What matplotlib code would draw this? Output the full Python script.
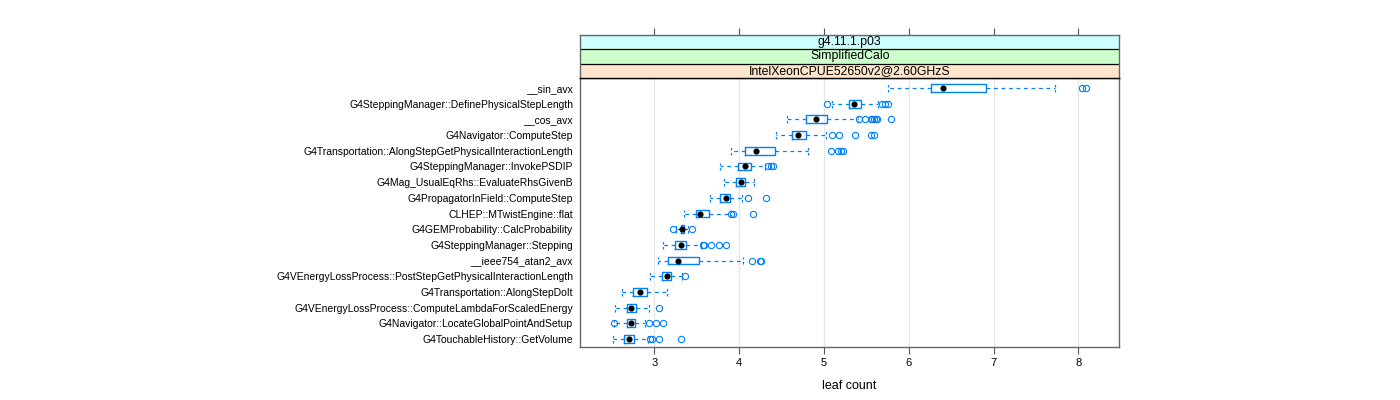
import matplotlib
matplotlib.use("Agg")
from matplotlib import pyplot as plt
import numpy as np

plt.rcParams['font.family'] = ['Liberation Sans', 'DejaVu Sans']

# categories, top to bottom
labels = ["__sin_avx",
          "G4SteppingManager::DefinePhysicalStepLength",
          "__cos_avx",
          "G4Navigator::ComputeStep",
          "G4Transportation::AlongStepGetPhysicalInteractionLength",
          "G4SteppingManager::InvokePSDIP",
          "G4Mag_UsualEqRhs::EvaluateRhsGivenB",
          "G4PropagatorInField::ComputeStep",
          "CLHEP::MTwistEngine::flat",
          "G4GEMProbability::CalcProbability",
          "G4SteppingManager::Stepping",
          "__ieee754_atan2_avx",
          "G4VEnergyLossProcess::PostStepGetPhysicalInteractionLength",
          "G4Transportation::AlongStepDoIt",
          "G4VEnergyLossProcess::ComputeLambdaForScaledEnergy",
          "G4Navigator::LocateGlobalPointAndSetup",
          "G4TouchableHistory::GetVolume"]

whis_lo = [5.75, 5.09, 4.57, 4.44, 3.90, 3.775, 3.82, 3.66, 3.35, 3.26, 3.10, 3.04, 2.955, 2.62, 2.535, 2.53, 2.51]
q1      = [6.26, 5.29, 4.79, 4.62, 4.07, 3.99, 3.965, 3.77, 3.49, 3.31, 3.25, 3.16, 3.095, 2.75, 2.68, 2.68, 2.645]
med     = [6.41, 5.36, 4.905, 4.70, 4.20, 4.07, 4.02, 3.84, 3.535, 3.33, 3.31, 3.28, 3.145, 2.83, 2.72, 2.72, 2.70]
q3      = [6.915, 5.44, 5.04, 4.79, 4.42, 4.135, 4.07, 3.895, 3.645, 3.355, 3.37, 3.53, 3.20, 2.91, 2.79, 2.77, 2.76]
whis_hi = [7.72, 5.64, 5.40, 5.03, 4.81, 4.31, 4.18, 4.03, 3.90, 3.40, 3.55, 4.05, 3.33, 3.145, 2.935, 2.89, 2.92]
outliers = [[8.04, 8.09],
            [5.04, 5.69, 5.72, 5.75],
            [5.41, 5.49, 5.55, 5.57, 5.59, 5.61, 5.63, 5.79],
            [5.10, 5.175, 5.37, 5.55, 5.59],
            [5.08, 5.17, 5.20, 5.23],
            [4.34, 4.375, 4.40],
            [],
            [4.10, 4.32],
            [3.91, 3.93, 4.16],
            [3.22, 3.44],
            [3.57, 3.59, 3.67, 3.76, 3.84],
            [4.15, 4.25, 4.26],
            [3.36],
            [],
            [3.055],
            [2.52, 2.94, 3.02, 3.10],
            [2.95, 2.97, 3.05, 3.31]]

strips = ["g4.11.1.p03", "SimplifiedCalo", "IntelXeonCPUE52650v2@2.60GHzS"]
strip_cols = ["#ccffff", "#ccffcc", "#ffe5cc"]

blue = "#0080ff"
n = len(labels)
pos = np.arange(n, 0, -1)

stats = []
for i in range(n):
    stats.append(dict(whislo=whis_lo[i], q1=q1[i], med=med[i], q3=q3[i],
                      whishi=whis_hi[i], fliers=outliers[i]))

fig = plt.figure(figsize=(14, 4), dpi=100)
W, H = 1400.0, 400.0
left, right, top, bot = 580, 1119.3, 78.3, 347.3
ax = fig.add_axes([left / W, (H - bot) / H, (right - left) / W, (bot - top) / H])

ax.bxp(stats, positions=pos, widths=0.5, orientation='horizontal',
       boxprops=dict(color=blue, linewidth=1),
       whiskerprops=dict(color=blue, linewidth=0.9, linestyle=(0, (3, 3))),
       capprops=dict(color=blue, linewidth=0.9, linestyle=(0, (2, 2))),
       capwidths=0.5,
       flierprops=dict(marker='o', markerfacecolor='none', markeredgecolor=blue,
                       markersize=4.5, markeredgewidth=0.8, linestyle='none'),
       medianprops=dict(linestyle='none'),
       manage_ticks=False, zorder=3)
ax.plot(med, pos, 'o', color='black', markersize=3.4, zorder=4)

ax.set_xlim(2.124, 8.483)
ax.set_ylim(0.47, 17.62)
ticks = [3, 4, 5, 6, 7, 8]
ax.set_xticks(ticks)
ax.set_xticklabels([str(t) for t in ticks], fontsize=8)
for t in ticks:
    ax.axvline(t, color='#e6e6e6', linewidth=0.9, zorder=0)
ax.set_yticks(pos)
ax.set_yticklabels(labels, fontsize=7.5)
ax.tick_params(axis='y', length=0, pad=5)
ax.tick_params(axis='x', direction='out', length=5, width=0.8, color='#555555', pad=3)
ax.set_xlabel("leaf count", fontsize=9, labelpad=8)
for s in ax.spines.values():
    s.set_color('#666666')
    s.set_linewidth(1)

# strips
sax = fig.add_axes([left / W, (H - top) / H, (right - left) / W, (top - 34.7) / H])
sax.set_xlim(ax.get_xlim())
sax.set_ylim(0, 3)
for k in range(3):
    sax.axhspan(2 - k, 3 - k, color=strip_cols[k], zorder=0)
    sax.text(np.mean(ax.get_xlim()), 2.5 - k, strips[k], ha='center', va='center', fontsize=8.8)
for k in [1, 2]:
    sax.axhline(k, color='black', linewidth=0.9)
sax.set_yticks([])
sax.set_xticks(ticks)
sax.tick_params(axis='x', direction='out', length=5, width=0.8, color='#555555',
                top=True, bottom=False, labeltop=False, labelbottom=False)
for s in sax.spines.values():
    s.set_color('#666666')
    s.set_linewidth(1)
sax.spines['bottom'].set_color('black')

fig.savefig("out.png", dpi=100)
